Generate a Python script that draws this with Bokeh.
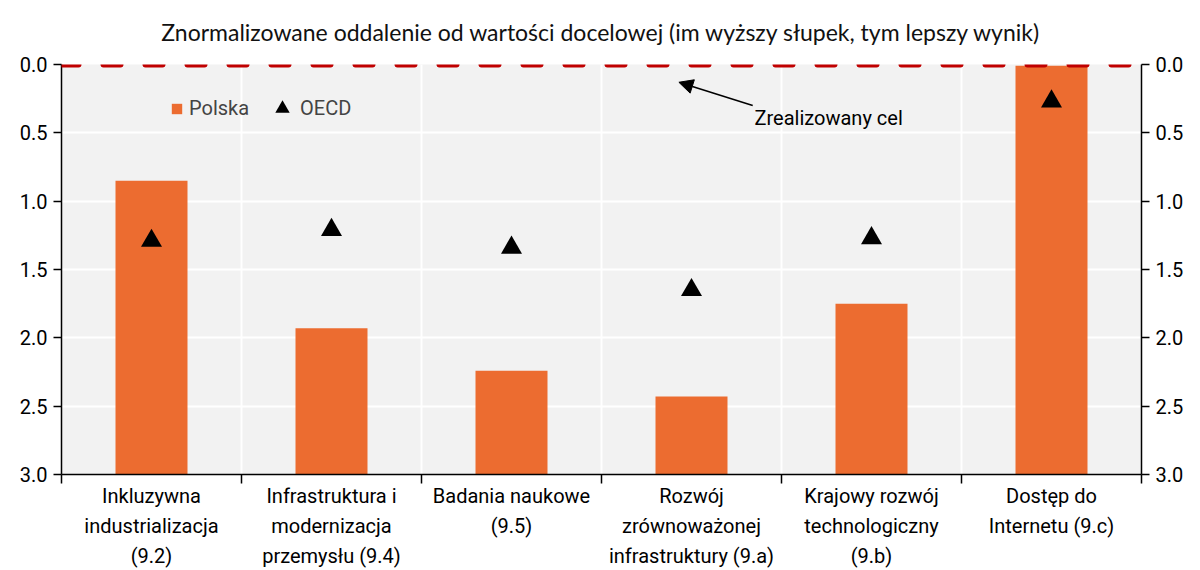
from bokeh.plotting import figure
from bokeh.models import (Range1d, LinearAxis, FixedTicker, Span, Legend, LegendItem,
                          Label, Arrow, NormalHead, Title, PrintfTickFormatter)
from bokeh.embed import file_html
from bokeh.resources import INLINE

categories = [
    "Inkluzywna\nindustrializacja\n(9.2)",
    "Infrastruktura i\nmodernizacja\nprzemysłu (9.4)",
    "Badania naukowe\n(9.5)",
    "Rozwój\nzrównoważonej\ninfrastruktury (9.a)",
    "Krajowy rozwój\ntechnologiczny\n(9.b)",
    "Dostęp do\nInternetu (9.c)",
]
polska = [0.85, 1.93, 2.24, 2.43, 1.75, 0.01]
oecd = [1.29, 1.21, 1.34, 1.65, 1.27, 0.27]
subtitle = "Znormalizowane oddalenie od wartości docelowej (im wyższy słupek, tym lepszy wynik)"

FONT = "Roboto"
FS = "20px"
idx = list(range(len(categories)))
bounds = [i - 0.5 for i in range(len(categories) + 1)]
yt = [0.0, 0.5, 1.0, 1.5, 2.0, 2.5, 3.0]

p = figure(width=1200, height=570, output_backend="svg", toolbar_location=None,
           x_range=Range1d(-0.5, len(categories) - 0.5), y_range=Range1d(3.0, 0.0),
           min_border_left=61, min_border_right=59, min_border_top=62, min_border_bottom=95)
p.background_fill_color = "#F2F2F2"
p.border_fill_color = "white"
p.outline_line_color = None

p.title = Title(text=subtitle, align="center", vertical_align="top", text_font="Lato",
                text_font_size="23px", text_font_style="normal", text_color="#111111",
                standoff=34)

bars = p.vbar(x=idx, top=polska, bottom=3.0, width=0.4, fill_color="#EC6C30", line_color=None)
tri = p.scatter(x=idx, y=oecd, marker="triangle", size=21, fill_color="black", line_color=None)

# grids
p.ygrid.ticker = FixedTicker(ticks=yt)
p.ygrid.grid_line_color = "white"
p.ygrid.grid_line_width = 2
p.xgrid.ticker = FixedTicker(ticks=bounds)
p.xgrid.grid_line_color = "white"
p.xgrid.grid_line_width = 2


def style_y(ax):
    ax.ticker = FixedTicker(ticks=yt)
    ax.formatter = PrintfTickFormatter(format="%.1f")
    ax.major_tick_out = 8
    ax.major_tick_in = 0
    ax.minor_tick_line_color = None
    ax.axis_line_color = "black"
    ax.axis_line_width = 1.5
    ax.major_tick_line_width = 1.5
    ax.major_label_text_font = FONT
    ax.major_label_text_font_size = FS
    ax.major_label_text_color = "black"
    ax.major_label_standoff = 6


style_y(p.yaxis[0])
rax = LinearAxis()
style_y(rax)
p.add_layout(rax, "right")

# bottom axis
xax = p.xaxis[0]
xax.ticker = FixedTicker(ticks=idx, minor_ticks=bounds)
xax.major_label_overrides = {i: c for i, c in zip(idx, categories)}
xax.major_tick_line_color = None
xax.major_tick_out = 0
xax.minor_tick_out = 9
xax.minor_tick_in = 0
xax.minor_tick_line_color = "black"
xax.minor_tick_line_width = 1.5
xax.axis_line_color = "black"
xax.axis_line_width = 1.5
xax.major_label_text_font = FONT
xax.major_label_text_font_size = FS
xax.major_label_text_color = "black"
xax.major_label_text_line_height = 1.25
xax.major_label_standoff = 0

# target line
target = Span(location=0.0, dimension="width", line_color="#C00000", line_width=6,
              line_dash="17 25", line_cap="round")
p.add_layout(target)

# legends (two, so each glyph gets its own size)
leg1 = Legend(items=[LegendItem(label="Polska", renderers=[bars])],
              location=(109, 354), background_fill_alpha=0, border_line_alpha=0,
              label_text_font=FONT, label_text_font_size=FS,
              glyph_width=13, glyph_height=13, label_standoff=6, padding=0, margin=0)
leg2 = Legend(items=[LegendItem(label="OECD", renderers=[tri])],
              location=(203, 348), background_fill_alpha=0, border_line_alpha=0,
              label_text_font=FONT, label_text_font_size=FS,
              glyph_width=36, glyph_height=36, label_standoff=-16, padding=0, margin=0)
p.add_layout(leg1)
p.add_layout(leg2)

# annotation
p.add_layout(Arrow(end=NormalHead(size=14, fill_color="black", line_color="black"),
                   x_start=3.34, y_start=0.30, x_end=2.93, y_end=0.13,
                   line_width=1.5, line_color="black"))
p.add_layout(Label(x=3.35, y=0.39, text="Zrealizowany cel", text_font=FONT,
                   text_font_size=FS, text_baseline="middle", text_color="black"))

open("out.html", "w").write(file_html(p, INLINE))
